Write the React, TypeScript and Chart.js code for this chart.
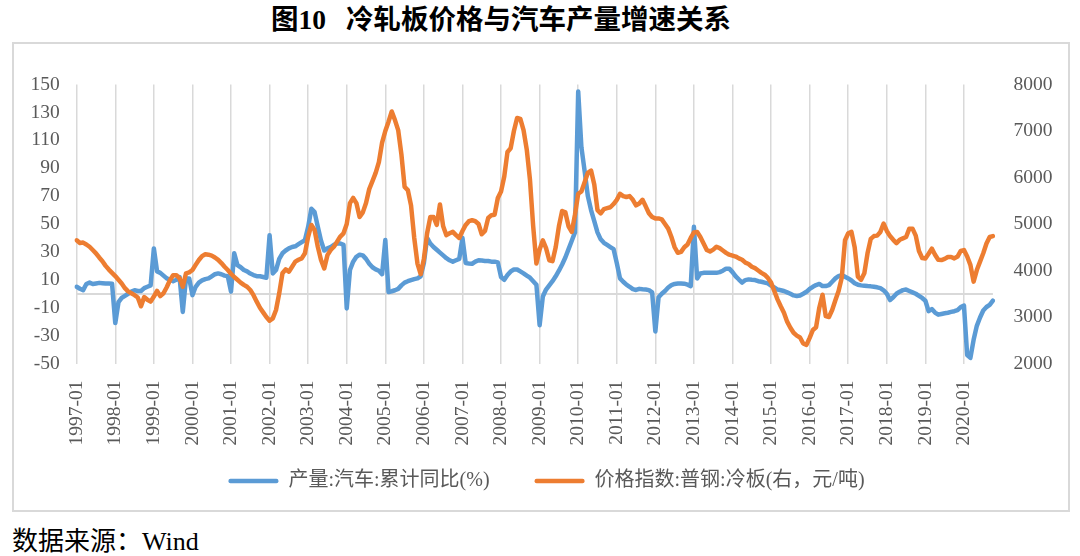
import React, { useEffect, useRef } from 'react';
import { Chart, registerables } from 'chart.js';

Chart.register(...registerables);

// ---------- data ----------
const startYear = 1997;
const monthCount = 286; // 1997-01 .. 2020-10

// 产量:汽车:累计同比(%)  (left axis)
const autoOutputYoY: number[] = [
  5, 3.6, 2.6, 7, 8, 7, 7.4, 7.8, 7.6, 7.4, 7.4, 7.2, // 1997
  -21, -6, -3, -1.5, 0, 1.5, 2.5, 2, 2, 4, 5, 6, // 1998
  32.5, 16, 15, 13, 11, 10, 9, 10, 12, -13, 11, 11, // 1999
  -1, 5, 8, 9.6, 10.5, 11, 12.5, 14, 14.6, 14, 13, 12.5, // 2000
  1.5, 29, 20.5, 19, 17, 16, 14.5, 13.4, 12.6, 12.5, 12, 11.5, // 2001
  42, 14.6, 17, 25, 29, 31, 32.5, 33.5, 34, 35.5, 37, 38.5, // 2002
  48, 61, 58.5, 48, 38, 31, 32.5, 33.5, 35, 36, 36, 35, // 2003
  -10.5, 17, 23, 26.5, 28, 27.5, 25, 21.5, 19, 17.5, 16.5, 14, // 2004
  38.5, 1.2, 1.8, 2.5, 3.5, 6, 8, 9, 9.8, 10.5, 11, 12.5, // 2005
  22, 40, 36, 33.5, 31.5, 29.5, 27.5, 25.5, 24, 23, 24, 25, // 2006
  40, 22, 21.7, 21.5, 23, 24, 23.8, 23.5, 23.5, 23, 23, 22.5, // 2007
  12, 10, 13.4, 16, 17.4, 17.4, 16, 14.6, 13, 11.5, 9, 6.5, // 2008
  -22.5, -2, 3, 6, 9, 12.5, 16.5, 21, 26, 32, 38, 44, // 2009
  145, 105, 88, 70, 60, 52, 44, 39, 36.5, 35, 33.5, 32, // 2010
  22, 11, 8.6, 6.5, 5, 3.3, 2.7, 3.5, 3.2, 3, 2.6, 1, // 2011
  -27, -2.5, 0, 2, 4.5, 6.2, 7, 7.3, 7.4, 7.2, 6.5, 5.5, // 2012
  48, 11, 14.5, 15, 15, 15, 15, 15, 15.5, 16.5, 18, 18, // 2013
  15.5, 12.5, 10.2, 8, 9.8, 10.3, 10, 9.8, 9, 8.6, 8, 7.4, // 2014
  5.8, 4.5, 3, 2.5, 2, 1, 0, -1.2, -1.7, -1.3, 0, 1.4, // 2015
  3.5, 5, 6.2, 7, 5.5, 5.5, 6.2, 8.6, 11, 12.7, 13.4, 12.2, // 2016
  11, 9.5, 7.5, 6.5, 6, 5.8, 5.5, 5.3, 5, 4.6, 4, 2.5, // 2017
  0, -4.5, -2.5, 0, 1.5, 2.6, 3, 2, 1, 0, -1.5, -3, // 2018
  -5, -12.5, -11, -13.5, -15, -14.5, -14, -13.6, -13, -12.5, -11.7, -9.5, // 2019
  -8.5, -44, -46, -33, -23, -17, -12, -9.5, -8, -5, // 2020
];

// 价格指数:普钢:冷板(右，元/吨)  (right axis)
const coldRolledPrice: number[] = [
  4650, 4590, 4600, 4560, 4510, 4440, 4370, 4280, 4200, 4100, 4020, 3950, // 1997
  3880, 3800, 3720, 3620, 3550, 3510, 3470, 3420, 3230, 3430, 3370, 3330, // 1998
  3440, 3560, 3450, 3510, 3640, 3790, 3900, 3900, 3830, 3650, 3940, 3960, // 1999
  4010, 4120, 4225, 4310, 4350, 4340, 4320, 4280, 4230, 4160, 4080, 4010, // 2000
  3930, 3860, 3800, 3740, 3690, 3650, 3580, 3470, 3330, 3200, 3100, 3000, // 2001
  2920, 2970, 3150, 3510, 3940, 4025, 3975, 4080, 4190, 4230, 4260, 4370, // 2002
  4730, 4980, 4870, 4510, 4225, 4045, 4330, 4440, 4510, 4620, 4730, 4800, // 2003
  5000, 5450, 5560, 5450, 5150, 5250, 5450, 5750, 5920, 6100, 6330, 6750, // 2004
  7000, 7200, 7420, 7235, 7020, 6500, 5800, 5730, 5400, 4700, 4150, 3920, // 2005
  4250, 4800, 5150, 5150, 4980, 5420, 4950, 4760, 4800, 4830, 4760, 4700, // 2006
  4850, 4980, 5060, 5080, 5060, 5000, 4780, 4850, 5130, 5190, 5200, 5560, // 2007
  5700, 6020, 6550, 6630, 7000, 7280, 7260, 7020, 6600, 5950, 4950, 4150, // 2008
  4450, 4650, 4480, 4220, 4200, 4500, 4950, 5280, 5250, 4950, 4830, 5200, // 2009
  5650, 5700, 5900, 6100, 6150, 5850, 5300, 5230, 5320, 5340, 5360, 5430, // 2010
  5520, 5650, 5600, 5580, 5600, 5520, 5400, 5440, 5520, 5380, 5230, 5150, // 2011
  5120, 5120, 5100, 5000, 4900, 4720, 4500, 4380, 4400, 4500, 4560, 4700, // 2012
  4820, 4830, 4720, 4580, 4440, 4410, 4450, 4510, 4480, 4430, 4380, 4340, // 2013
  4320, 4300, 4260, 4230, 4170, 4140, 4080, 4050, 4000, 3950, 3910, 3840, // 2014
  3740, 3560, 3380, 3230, 3090, 2900, 2770, 2660, 2600, 2560, 2430, 2400, // 2015
  2550, 2720, 2780, 3200, 3480, 3020, 3000, 3150, 3360, 3560, 3850, 4650, // 2016
  4800, 4830, 4500, 3870, 3800, 3940, 4370, 4680, 4740, 4750, 4830, 5010, // 2017
  4850, 4740, 4660, 4590, 4660, 4690, 4720, 4900, 4900, 4750, 4420, 4270, // 2018
  4260, 4360, 4470, 4340, 4230, 4225, 4250, 4290, 4290, 4260, 4300, 4420, // 2019
  4440, 4300, 4120, 3760, 4010, 4190, 4370, 4580, 4720, 4740, // 2020
];

const leftTicks: number[] = [-50, -30, -10, 0, 10, 30, 50, 70, 90, 110, 130, 150];
const rightTicks: number[] = [2000, 3000, 4000, 5000, 6000, 7000, 8000];

const seriesNames: string[] = ['产量:汽车:累计同比(%)', '价格指数:普钢:冷板(右，元/吨)'];
const seriesColors: string[] = ['#5B9BD5', '#ED7D31'];

const monthLabels: string[] = [];
for (let i = 0; i < monthCount; i++) {
  const y = startYear + Math.floor(i / 12);
  const m = (i % 12) + 1;
  monthLabels.push(`${y}-${m < 10 ? '0' + m : m}`);
}

const FONT_FAMILY = '"Liberation Serif", "Times New Roman", "Noto Sans CJK SC", serif';
const TEXT_GRAY = '#595959';
const GRID_GRAY = '#d9d9d9';

// lets the rotated category labels run below the (short) x-axis box without being clipped
const xLabelRoom = {
  id: 'xLabelRoom',
  afterLayout(chart: any) {
    const x = chart.scales.x;
    if (x) x.bottom = x.top + 110;
  },
};

export default function App() {
  const canvasRef = useRef<HTMLCanvasElement>(null);

  useEffect(() => {
    const canvas = canvasRef.current;
    if (!canvas) return;
    const tickFont = { family: FONT_FAMILY, size: 19.5 };
    const chart = new Chart(canvas, {
      type: 'line',
      data: {
        labels: monthLabels,
        datasets: [
          {
            label: seriesNames[0],
            data: autoOutputYoY,
            borderColor: seriesColors[0],
            backgroundColor: seriesColors[0],
            borderWidth: 4.5,
            pointRadius: 0,
            pointHoverRadius: 0,
            tension: 0,
            borderJoinStyle: 'round',
            borderCapStyle: 'round',
            yAxisID: 'y',
            order: 1,
          },
          {
            label: seriesNames[1],
            data: coldRolledPrice,
            borderColor: seriesColors[1],
            backgroundColor: seriesColors[1],
            borderWidth: 4.5,
            pointRadius: 0,
            pointHoverRadius: 0,
            tension: 0,
            borderJoinStyle: 'round',
            borderCapStyle: 'round',
            yAxisID: 'y1',
            order: 0,
          },
        ],
      },
      options: {
        animation: false,
        responsive: false,
        maintainAspectRatio: false,
        devicePixelRatio: 1,
        events: [],
        layout: { padding: { top: 40.5, bottom: 9, left: 11, right: 0 } },
        plugins: {
          title: { display: false },
          tooltip: { enabled: false },
          legend: {
            display: true,
            position: 'bottom',
            align: 'center',
            labels: {
              boxWidth: 50,
              boxHeight: 4.5,
              padding: 45,
              color: TEXT_GRAY,
              font: { family: FONT_FAMILY, size: 20 },
              useBorderRadius: true,
              borderRadius: 2,
              sort: (a: any, b: any) => a.datasetIndex - b.datasetIndex,
              generateLabels: (ch: any) =>
                Chart.defaults.plugins.legend.labels
                  .generateLabels(ch)
                  .map((l: any) => ({ ...l, lineWidth: 0 })),
            },
          },
        },
        scales: {
          x: {
            type: 'category',
            position: 'bottom',
            grid: {
              color: (c: any) => (c.index % 12 === 0 ? GRID_GRAY : 'rgba(0,0,0,0)'),
              lineWidth: 1.5,
              drawTicks: false,
            },
            border: { display: false },
            ticks: {
              autoSkip: false,
              maxRotation: 90,
              minRotation: 90,
              padding: 17,
              color: TEXT_GRAY,
              font: tickFont,
              callback: (_v: any, i: number) => (i % 12 === 0 ? monthLabels[i] : ''),
            },
            afterFit: (s: any) => {
              s.height = 62.5;
            },
          },
          y: {
            type: 'linear',
            position: 'left',
            min: -50,
            max: 150,
            afterBuildTicks: (s: any) => {
              s.ticks = leftTicks.map((v) => ({ value: v }));
            },
            grid: {
              color: (c: any) => (c.tick && c.tick.value === 0 ? GRID_GRAY : 'rgba(0,0,0,0)'),
              lineWidth: 2,
              drawTicks: false,
            },
            border: { display: false },
            ticks: {
              autoSkip: false,
              padding: 17,
              color: TEXT_GRAY,
              font: tickFont,
              callback: (v: any) => (v === 0 ? '' : String(v)),
            },
            afterFit: (s: any) => {
              s.width = 51.7;
            },
          },
          y1: {
            type: 'linear',
            position: 'right',
            min: 2000,
            max: 8000,
            afterBuildTicks: (s: any) => {
              s.ticks = rightTicks.map((v) => ({ value: v }));
            },
            grid: { display: false, drawTicks: false },
            border: { display: false },
            ticks: {
              autoSkip: false,
              padding: 20.6,
              color: TEXT_GRAY,
              font: tickFont,
              callback: (v: any) => String(v),
            },
            afterFit: (s: any) => {
              s.width = 75.1;
            },
          },
        },
      } as any,
      plugins: [xLabelRoom],
    });
    return () => chart.destroy();
  }, []);

  return (
    <div style={{ position: 'absolute', left: 0, top: 0, width: 1080, height: 556, background: '#fff', overflow: 'hidden' }}>
      <div
        style={{
          position: 'absolute',
          left: 0,
          top: 0,
          width: 1002,
          textAlign: 'center',
          lineHeight: '40px',
          fontSize: 27.5,
          fontWeight: 700,
          color: '#000',
          fontFamily: FONT_FAMILY,
          whiteSpace: 'nowrap',
        }}
      >
        图10<span style={{ fontSize: 20 }}>{'\u3000'}</span>冷轧板价格与汽车产量增速关系
      </div>
      <div
        style={{
          position: 'absolute',
          left: 12,
          top: 42,
          width: 1054,
          height: 466,
          border: `2px solid ${GRID_GRAY}`,
        }}
      >
        <canvas ref={canvasRef} width={1054} height={466} style={{ display: 'block', width: 1054, height: 466 }} />
      </div>
      <div
        style={{
          position: 'absolute',
          left: 12,
          top: 527,
          lineHeight: '30px',
          fontSize: 26,
          color: '#000',
          fontFamily: FONT_FAMILY,
          whiteSpace: 'nowrap',
        }}
      >
        数据来源：Wind
      </div>
    </div>
  );
}
